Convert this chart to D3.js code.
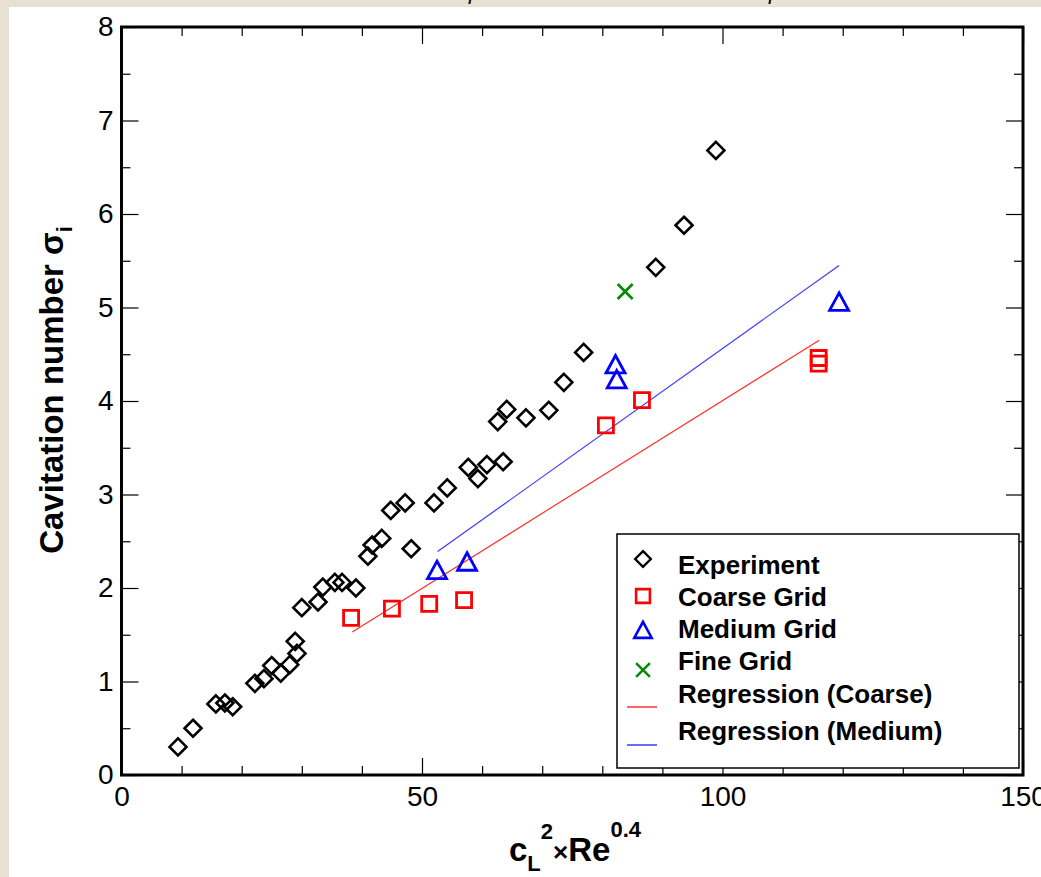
<!DOCTYPE html>
<html><head><meta charset="utf-8">
<script src="https://cdn.jsdelivr.net/npm/d3@7"></script>
<style>
html,body{margin:0;padding:0;background:#e8e0d3;}
svg{display:block;}
text{font-family:"Liberation Sans",Arial,Helvetica,sans-serif;}
</style></head>
<body>
<svg id="chart" width="1041" height="877"></svg>
<script>
// ---- data ----
const expX = [9.4, 11.9, 15.7, 17.2, 18.5, 22.2, 23.7, 25.0, 26.5, 28.0, 29.2, 28.9, 30.0, 32.7, 33.5, 35.5, 36.7, 39.0, 41.0, 41.7, 43.3, 44.8, 47.2, 48.2, 52.0, 54.2, 57.7, 59.3, 60.8, 63.5, 62.6, 64.1, 67.3, 71.1, 73.6, 76.9, 88.9, 93.6, 98.9];
const expY = [0.30, 0.50, 0.76, 0.77, 0.73, 0.98, 1.03, 1.17, 1.09, 1.18, 1.30, 1.43, 1.79, 1.85, 2.01, 2.06, 2.06, 2.00, 2.34, 2.46, 2.53, 2.83, 2.91, 2.42, 2.91, 3.07, 3.29, 3.17, 3.32, 3.35, 3.78, 3.91, 3.82, 3.90, 4.20, 4.52, 5.43, 5.88, 6.68];
const coarseX = [38.2, 45.0, 51.2, 57.0, 80.6, 86.6, 116.0, 116.0];
const coarseY = [1.68, 1.78, 1.83, 1.87, 3.74, 4.01, 4.46, 4.40];
const mediumX = [52.5, 57.5, 82.2, 82.4, 119.4];
const mediumY = [2.18, 2.27, 4.38, 4.22, 5.05];
const fineX = [83.8];
const fineY = [5.17];
const regCoarseX = [38.4, 116.1];
const regCoarseY = [1.53, 4.65];
const regMediumX = [52.6, 119.4];
const regMediumY = [2.39, 5.45];
const xTicks = [0, 50, 100, 150];
const yTicks = [0, 1, 2, 3, 4, 5, 6, 7, 8];
const legendLabels = ["Experiment", "Coarse Grid", "Medium Grid", "Fine Grid", "Regression (Coarse)", "Regression (Medium)"];

// ---- layout ----
const svg = d3.select("#chart");
svg.append("rect").attr("x", 9).attr("y", 7).attr("width", 1032).attr("height", 870).attr("fill", "#ffffff");
// clipped italic glyphs at very top (from page above)
svg.append("text").attr("x", 468).attr("y", 4).attr("font-family", "DejaVu Serif").attr("font-style", "italic").attr("font-size", 22).text("i");
svg.append("text").attr("x", 768).attr("y", 4).attr("font-family", "DejaVu Serif").attr("font-style", "italic").attr("font-size", 22).text("i");

const L = 121.5, R = 1023, T = 27, B = 775;
const x = d3.scaleLinear().domain([0, 150]).range([L, R]);
const y = d3.scaleLinear().domain([0, 8]).range([B, T]);

const minorX = d3.range(0, 151, 10).filter(v => v % 50 !== 0);
const minorY = d3.range(0.5, 8, 1);

function styleAxis(g) {
  g.select(".domain").remove();
  g.selectAll(".tick line").attr("stroke", "#000").attr("stroke-width", 1.2);
  g.selectAll(".tick text").attr("fill", "#000").attr("font-size", 28);
}
// bottom
svg.append("g").attr("transform", `translate(0,${B})`)
  .call(d3.axisBottom(x).tickValues(xTicks).tickSize(-17).tickPadding(11).tickFormat(d3.format("d"))).call(styleAxis);
svg.append("g").attr("transform", `translate(0,${B})`)
  .call(d3.axisBottom(x).tickValues(minorX).tickSize(-9).tickFormat("")).call(styleAxis);
// top
svg.append("g").attr("transform", `translate(0,${T})`)
  .call(d3.axisTop(x).tickValues(xTicks).tickSize(-17).tickFormat("")).call(styleAxis);
svg.append("g").attr("transform", `translate(0,${T})`)
  .call(d3.axisTop(x).tickValues(minorX).tickSize(-9).tickFormat("")).call(styleAxis);
// left
svg.append("g").attr("transform", `translate(${L},0)`)
  .call(d3.axisLeft(y).tickValues(yTicks).tickSize(-17).tickPadding(8).tickFormat(d3.format("d"))).call(styleAxis);
svg.append("g").attr("transform", `translate(${L},0)`)
  .call(d3.axisLeft(y).tickValues(minorY).tickSize(-9).tickFormat("")).call(styleAxis);
// right
svg.append("g").attr("transform", `translate(${R},0)`)
  .call(d3.axisRight(y).tickValues(yTicks).tickSize(-17).tickFormat("")).call(styleAxis);
svg.append("g").attr("transform", `translate(${R},0)`)
  .call(d3.axisRight(y).tickValues(minorY).tickSize(-9).tickFormat("")).call(styleAxis);

// frame
svg.append("rect").attr("x", L).attr("y", T).attr("width", R - L).attr("height", B - T)
  .attr("fill", "none").attr("stroke", "#000").attr("stroke-width", 3);

// regression lines
const line = d3.line().x(d => x(d[0])).y(d => y(d[1]));
svg.append("path").datum(d3.zip(regCoarseX, regCoarseY)).attr("d", line)
  .attr("fill", "none").attr("stroke", "#ff3030").attr("stroke-width", 1.2);
svg.append("path").datum(d3.zip(regMediumX, regMediumY)).attr("d", line)
  .attr("fill", "none").attr("stroke", "#3a3aff").attr("stroke-width", 1.2);

// markers
const diamond = "M0,-8.5L8.5,0L0,8.5L-8.5,0Z";
const square = "M-7.5,-7.5H7.5V7.5H-7.5Z";
const triangle = "M0,-10L9.5,7.5H-9.5Z";
const cross = "M-7.5,-7.5L7.5,7.5M-7.5,7.5L7.5,-7.5";
function marks(xs, ys, path, color, sw) {
  svg.append("g").selectAll("path").data(d3.zip(xs, ys)).join("path")
    .attr("transform", d => `translate(${x(d[0])},${y(d[1])})`)
    .attr("d", path).attr("fill", "none").attr("stroke", color).attr("stroke-width", sw);
}
marks(expX, expY, diamond, "#000", 2.6);
marks(coarseX, coarseY, square, "#ff0000", 2.8);
marks(mediumX, mediumY, triangle, "#0000ff", 2.8);
marks(fineX, fineY, cross, "#0a8a0a", 2.8);

// legend
const lg = svg.append("g");
lg.append("rect").attr("x", 617).attr("y", 534).attr("width", 402).attr("height", 234)
  .attr("fill", "#fff").attr("stroke", "#000").attr("stroke-width", 1.5);
const rowsY = [574, 606, 638, 670, 703, 740];
lg.selectAll("text").data(legendLabels).join("text")
  .attr("x", 678).attr("y", (d, i) => rowsY[i])
  .attr("font-size", 26).attr("font-weight", "bold").attr("fill", "#000").text(d => d);
const symY = [559, 596, 631, 670];
[[diamond, "#000", 2.6], [square, "#ff0000", 2.8], [triangle, "#0000ff", 2.8], [cross, "#0a8a0a", 2.8]].forEach((s, i) => {
  lg.append("path").attr("transform", `translate(643,${symY[i]}) scale(0.92)`).attr("d", s[0])
    .attr("fill", "none").attr("stroke", s[1]).attr("stroke-width", s[2]);
});
lg.append("line").attr("x1", 627).attr("x2", 657).attr("y1", 707).attr("y2", 707).attr("stroke", "#ff3030").attr("stroke-width", 1.5);
lg.append("line").attr("x1", 627).attr("x2", 657).attr("y1", 745).attr("y2", 745).attr("stroke", "#3a3aff").attr("stroke-width", 1.5);

// axis titles
const yt = svg.append("text").attr("transform", "translate(63,390) rotate(-90)")
  .attr("text-anchor", "middle").attr("font-size", 33).attr("font-weight", "bold").attr("fill", "#000");
yt.append("tspan").text("Cavitation number σ");
yt.append("tspan").attr("dy", 9).attr("font-size", 22).text("i");

const xt = svg.append("text").attr("x", 575).attr("y", 861)
  .attr("text-anchor", "middle").attr("font-size", 33).attr("font-weight", "bold").attr("fill", "#000");
xt.append("tspan").text("c");
xt.append("tspan").attr("dy", 10).attr("font-size", 22).text("L");
xt.append("tspan").attr("dy", -32).attr("font-size", 22).text("2");
xt.append("tspan").attr("dy", 22).attr("font-size", 26).text("×");
xt.append("tspan").attr("font-size", 33).text("Re");
xt.append("tspan").attr("dy", -24).attr("font-size", 22).text("0.4");
</script>
</body></html>
